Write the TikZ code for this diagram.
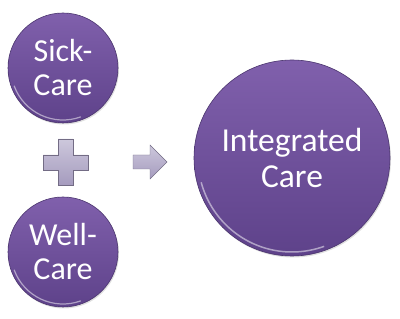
\documentclass[tikz,border=0pt]{standalone}
\usepackage{fontspec}
\setmainfont{Carlito}
\usepackage{tikz}
\usetikzlibrary{calc,shadows}

\definecolor{ballTop}{RGB}{128,96,172}
\definecolor{ballBot}{RGB}{94,66,138}
\definecolor{signTop}{RGB}{205,200,220}
\definecolor{signBot}{RGB}{165,155,190}

\tikzset{
  ball/.style={circle,draw=ballBot!80!black,line width=0.6pt,
    top color=ballTop,bottom color=ballBot,text=white,align=center,
    inner sep=0pt,drop shadow={shadow xshift=1pt,shadow yshift=-1.5pt,opacity=0.25}},
  sign/.style={draw=signBot!70!black,line width=0.4pt,top color=signTop,bottom color=signBot}
}

\begin{document}
\begin{tikzpicture}[x=1pt,y=1pt]
  \useasboundingbox (0,0) rectangle (400,319);
  \node[ball,minimum size=110pt,font=\fontsize{32}{34}\selectfont] (sick) at (63,251) {Sick-\\Care};
  \node[ball,minimum size=110pt,font=\fontsize{32}{34}\selectfont] (well) at (63,67) {Well-\\Care};
  \node[ball,minimum size=196pt,font=\fontsize{33.5}{36}\selectfont] (integ) at (292,161) {Integrated\\Care};
  % glossy rims
  \draw[white,opacity=0.5,line width=1.2pt] ($(sick)+(200:52)$) arc (200:290:52);
  \draw[white,opacity=0.5,line width=1.2pt] ($(well)+(200:52)$) arc (200:290:52);
  \draw[white,opacity=0.5,line width=1.5pt] ($(integ)+(195:94)$) arc (195:290:94);
  % plus
  \draw[sign] (58,180) -- (73,180) -- (73,164) -- (88,164) -- (88,149) -- (73,149)
    -- (73,134) -- (58,134) -- (58,149) -- (43,149) -- (43,164) -- (58,164) -- cycle;
  % arrow
  \draw[sign] (133,150) -- (150,150) -- (150,140) -- (167,157) -- (150,174) -- (150,164)
    -- (133,164) -- cycle;
\end{tikzpicture}
\end{document}
